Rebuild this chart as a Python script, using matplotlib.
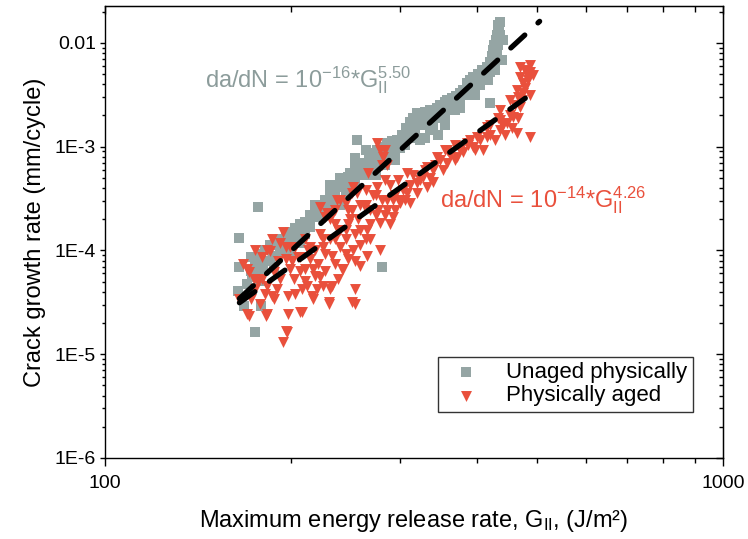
"""
Crack growth rate vs maximum energy release rate (mode II), log-log scatter
with power-law fits for unaged and physically aged specimens.
"""

import matplotlib
matplotlib.use("Agg")
import matplotlib.pyplot as plt
from matplotlib.ticker import NullFormatter
import numpy as np

plt.rcParams['font.family'] = ['Liberation Sans', 'DejaVu Sans']

# --- data ------------------------------------------------------------------
unaged_g = [164, 165, 165, 168, 175, 177, 179, 180, 170, 173, 175, 178, 181,
            183, 187, 189, 192, 196, 199, 203, 207, 207, 211, 215, 215, 219,
            221, 225, 227, 231, 234, 238, 243, 247, 249, 254, 256, 259, 262,
            267, 271, 276, 281, 281, 286, 291, 297, 302, 307, 312, 315, 320,
            323, 330, 336, 340, 345, 348, 355, 358, 364, 370, 375, 380, 385,
            390, 394, 401, 407, 415, 420, 420, 423, 424, 426, 429, 431, 432,
            432, 436, 434, 231, 245, 254, 264, 274, 284, 295, 306, 318, 330,
            348, 368, 390, 404, 336, 346, 355, 330, 439, 440, 417, 428,
            172, 172, 172, 175, 178, 178, 181.5, 185, 185, 188, 192, 196, 199,
            203, 207, 211, 215, 219, 223, 227, 231, 236, 240, 245, 249, 254,
            259, 264, 268, 274, 279, 284, 289, 295, 300, 306, 312, 318, 323,
            330, 336, 342, 348, 355, 362, 368, 375, 382, 390, 397, 404, 412,
            420, 424, 432, 436, 431,
            231, 240, 254, 264, 274, 284, 295, 323, 355, 375, 397]
unaged_rate = [4.03e-5, 6.86e-5, 1.33e-4, 2.90e-5, 1.63e-5, 2.65e-4, 2.90e-5,
               6.56e-5, 4.71e-5, 5.50e-5, 7.83e-5, 9.15e-5, 7.83e-5, 1.02e-4,
               8.75e-5, 1.14e-4, 1.28e-4, 1.33e-4, 1.52e-4, 1.66e-4, 1.19e-4,
               1.78e-4, 1.90e-4, 1.70e-4, 2.22e-4, 2.12e-4, 2.48e-4, 2.77e-4,
               3.09e-4, 3.45e-4, 3.86e-4, 4.12e-4, 4.51e-4, 5.15e-4, 5.62e-4,
               6.28e-4, 1.17e-3, 6.71e-4, 7.02e-4, 7.84e-4, 8.75e-4, 9.36e-4,
               1.00e-3, 6.86e-5, 1.09e-3, 1.14e-3, 1.17e-3, 1.30e-3, 1.52e-3,
               1.74e-3, 1.90e-3, 2.12e-3, 2.03e-3, 2.17e-3, 2.27e-3, 1.56e-3,
               2.37e-3, 2.54e-3, 2.71e-3, 2.83e-3, 2.96e-3, 3.09e-3, 3.30e-3,
               3.53e-3, 4.12e-3, 4.41e-3, 4.71e-3, 5.03e-3, 5.50e-3, 5.88e-3,
               2.65e-3, 6.57e-3, 7.50e-3, 8.57e-3, 9.57e-3, 1.07e-2, 1.19e-2,
               1.33e-2, 1.49e-2, 1.59e-2, 1.40e-2, 2.48e-4, 3.45e-4, 4.31e-4,
               5.38e-4, 6.71e-4, 7.84e-4, 8.95e-4, 1.04e-3, 1.46e-3, 1.63e-3,
               1.90e-3, 2.27e-3, 3.16e-3, 3.94e-3, 1.46e-3, 1.30e-3, 1.63e-3,
               1.20e-3, 6.87e-3, 1.07e-2, 4.41e-3, 5.50e-3,
               8.57e-5, 6.28e-5, 4.22e-5, 5.87e-5, 7.33e-5, 5.03e-5, 1.02e-4,
               7.83e-5, 1.14e-4, 6.86e-5, 9.78e-5, 1.14e-4, 9.15e-5, 1.33e-4,
               1.52e-4, 1.43e-4, 1.99e-4, 2.77e-4, 2.22e-4, 2.48e-4, 3.09e-4,
               3.45e-4, 2.77e-4, 4.31e-4, 3.86e-4, 5.04e-4, 5.38e-4, 6.71e-4,
               6.01e-4, 8.37e-4, 7.50e-4, 9.36e-4, 8.37e-4, 1.12e-3, 9.78e-4,
               1.30e-3, 1.22e-3, 1.82e-3, 1.63e-3, 1.90e-3, 1.82e-3, 2.17e-3,
               2.17e-3, 2.37e-3, 2.54e-3, 2.83e-3, 2.83e-3, 3.38e-3, 3.69e-3,
               3.94e-3, 4.60e-3, 4.92e-3, 5.26e-3, 6.14e-3, 9.57e-3, 1.19e-2,
               7.67e-3,
               4.31e-4, 5.04e-4, 7.84e-4, 9.36e-4, 5.38e-4, 6.71e-4, 7.50e-4,
               1.17e-3, 1.90e-3, 2.37e-3, 3.16e-3]

aged_g = [170, 171, 183, 196, 194, 198, 208, 230, 216, 198, 186, 171, 183,
          196, 203, 213, 225, 233, 242, 225, 208, 177, 188, 219, 211, 233,
          247, 251, 227, 236, 245, 251, 182, 197, 207, 217, 231, 230, 254,
          254, 243, 259, 265, 279, 185, 192, 199, 215, 225, 240, 252, 265,
          279, 292, 300, 312, 320, 332, 340, 170, 174, 183, 190, 202, 212,
          220, 240, 231, 223, 240, 256, 276, 286, 276, 282, 266, 252, 237,
          229, 279, 286, 284, 332, 345, 358, 375, 394, 415, 436, 447, 457,
          469, 475, 469, 482, 475, 464, 487, 464, 436, 415, 400, 385, 371,
          358, 340, 327, 320, 308, 300, 292, 286, 308, 436, 452, 466, 478,
          487, 223, 236, 245, 254, 259, 268, 274, 264, 289, 249,
          172, 175, 178, 179.5, 181.5, 188, 190.5, 192, 196, 199, 203, 205,
          207, 211, 215, 219, 221, 223, 227, 231, 236, 238, 245, 247, 251,
          257, 262, 264, 268, 271, 277, 281, 284, 167, 165,
          281, 284, 289, 295, 298, 304, 312, 315, 323, 330, 336, 342, 348,
          352, 362, 368, 380, 386, 397, 404, 409, 420, 428, 440, 444, 452,
          455, 461, 466, 473, 478, 483, 487, 469, 487, 492,
          175, 179.5, 186, 194, 201, 207, 211, 217, 227, 238, 245, 254, 259,
          268, 274, 264, 259, 247, 236, 295, 306, 355, 368, 390, 420, 432]
aged_rate = [2.43e-5, 2.32e-5, 2.43e-5, 1.66e-5, 1.30e-5, 2.43e-5, 2.54e-5,
             3.16e-5, 3.61e-5, 3.61e-5, 3.61e-5, 6.14e-5, 1.02e-4, 1.09e-4,
             1.09e-4, 1.02e-4, 1.09e-4, 8.75e-5, 6.56e-5, 4.51e-5, 4.22e-5,
             4.92e-5, 6.14e-5, 5.62e-5, 6.56e-5, 4.51e-5, 8.19e-5, 3.16e-5,
             2.12e-4, 2.48e-4, 2.89e-4, 3.61e-4, 2.32e-5, 1.63e-5, 2.54e-5,
             3.38e-5, 4.22e-5, 3.03e-5, 4.22e-5, 3.03e-5, 6.56e-5, 7.01e-5,
             8.75e-5, 1.02e-4, 9.78e-5, 1.19e-4, 1.09e-4, 1.09e-4, 1.28e-4,
             1.09e-4, 1.02e-4, 1.59e-4, 1.86e-4, 2.12e-4, 3.09e-4, 2.89e-4,
             3.61e-4, 4.12e-4, 4.61e-4, 6.56e-5, 5.26e-5, 4.51e-5, 4.22e-5,
             5.26e-5, 4.51e-5, 4.22e-5, 1.59e-4, 1.99e-4, 2.65e-4, 3.09e-4,
             3.61e-4, 4.12e-4, 3.09e-4, 1.09e-3, 8.01e-4, 5.62e-4, 4.12e-4,
             3.09e-4, 2.32e-4, 9.36e-4, 6.71e-4, 4.82e-4, 6.42e-4, 8.01e-4,
             9.36e-4, 9.36e-4, 1.00e-3, 1.25e-3, 1.46e-3, 1.70e-3, 1.94e-3,
             2.43e-3, 3.30e-3, 4.71e-3, 5.03e-3, 4.12e-3, 3.53e-3, 1.25e-3,
             1.36e-3, 1.82e-3, 1.56e-3, 1.25e-3, 1.09e-3, 8.01e-4, 7.02e-4,
             6.01e-4, 5.15e-4, 4.51e-4, 3.61e-4, 2.89e-4, 3.09e-4, 2.48e-4,
             5.62e-4, 2.27e-3, 2.83e-3, 3.02e-3, 5.50e-3, 5.26e-3, 1.43e-4,
             1.28e-4, 9.15e-5, 1.43e-4, 1.14e-4, 1.28e-4, 2.22e-4, 2.77e-4,
             1.78e-4, 1.99e-4,
             3.38e-5, 4.22e-5, 3.03e-5, 5.26e-5, 3.78e-5, 3.38e-5, 7.83e-5,
             5.26e-5, 8.19e-5, 6.56e-5, 3.78e-5, 8.57e-5, 6.28e-5, 1.28e-4,
             8.19e-5, 1.02e-4, 7.33e-5, 5.50e-5, 9.15e-5, 1.28e-4, 7.33e-5,
             1.59e-4, 1.28e-4, 1.78e-4, 2.48e-4, 1.99e-4, 2.77e-4, 1.28e-4,
             1.78e-4, 3.45e-4, 2.48e-4, 3.09e-4, 2.22e-4, 7.33e-5, 3.38e-5,
             6.71e-4, 9.36e-4, 4.31e-4, 3.45e-4, 4.82e-4, 3.86e-4, 4.31e-4,
             5.38e-4, 4.82e-4, 6.01e-4, 5.04e-4, 6.71e-4, 7.50e-4, 6.01e-4,
             8.37e-4, 7.50e-4, 8.95e-4, 1.04e-3, 9.36e-4, 1.17e-3, 9.36e-4,
             1.30e-3, 1.17e-3, 1.63e-3, 1.30e-3, 2.03e-3, 1.52e-3, 2.54e-3,
             1.90e-3, 2.83e-3, 3.69e-3, 4.41e-3, 3.16e-3, 5.88e-3, 6.14e-3,
             4.92e-3,
             1.02e-4, 8.57e-5, 1.28e-4, 1.52e-4, 7.83e-5, 8.57e-5, 5.03e-5,
             6.56e-5, 6.28e-5, 5.26e-5, 1.59e-4, 7.83e-5, 1.59e-4, 2.48e-4,
             3.45e-4, 3.86e-4, 2.77e-4, 2.48e-4, 1.78e-4, 2.48e-4, 3.09e-4,
             9.36e-4, 1.04e-3, 1.17e-3, 1.63e-3, 1.90e-3]

# power-law fits  da/dN = C * G^m  (as drawn on the chart)
fit_g_range = [165, 505]
unaged_fit = (10 ** -16.66, 5.50)
aged_fit = (10 ** -13.95, 4.26)

x_ticks = [100, 1000]
x_tick_labels = ['100', '1000']
y_ticks = [1e-6, 1e-5, 1e-4, 1e-3, 1e-2]
y_tick_labels = ['1E-6', '1E-5', '1E-4', '1E-3', '0.01']

GREY = '#95a5a4'
RED = '#e9503c'


def power_law(g, coef, exp):
    return coef * np.asarray(g, dtype=float) ** exp


fig = plt.figure(figsize=(7.48, 5.39), dpi=100)
ax = fig.add_axes([105 / 748, 1 - 458 / 539, 618 / 748, 452 / 539])

ax.scatter(unaged_g, unaged_rate, marker='s', s=46, color=GREY,
           linewidths=0, zorder=2, label='Unaged physically')
ax.scatter(aged_g, aged_rate, marker='v', s=62, color=RED,
           linewidths=0, zorder=3, label='Physically aged')

g_line = np.geomspace(fit_g_range[0], fit_g_range[1], 50)
for coef, exp in (unaged_fit, aged_fit):
    ax.plot(g_line, power_law(g_line, coef, exp), color='black', lw=3.8,
            linestyle=(0, (3.6, 3.4)), dash_capstyle='round', zorder=4)

ax.set_xscale('log')
ax.set_yscale('log')
ax.set_xlim(100, 1000)
ax.set_ylim(1e-6, 0.0227)
ax.set_xticks(x_ticks, x_tick_labels)
ax.set_yticks(y_ticks, y_tick_labels)
ax.xaxis.set_minor_formatter(NullFormatter())
ax.yaxis.set_minor_formatter(NullFormatter())

ax.tick_params(axis='both', which='both', direction='out', labelsize=14,
               width=1)
ax.tick_params(axis='x', which='major', length=6, pad=6)
ax.tick_params(axis='x', which='minor', length=3.5)
ax.tick_params(axis='y', which='major', length=3.5, pad=3)
ax.tick_params(axis='y', which='minor', length=2)
for spine in ax.spines.values():
    spine.set_linewidth(1)

# mirrored inward ticks on top and right
top = ax.secondary_xaxis('top')
top.set_xticks(x_ticks)
top.tick_params(which='both', direction='in', labeltop=False, width=1)
top.tick_params(which='major', length=6)
top.tick_params(which='minor', length=4)
top.xaxis.set_minor_formatter(NullFormatter())
right = ax.secondary_yaxis('right')
right.set_yticks(y_ticks)
right.tick_params(which='both', direction='in', labelright=False, width=1)
right.tick_params(which='major', length=5)
right.tick_params(which='minor', length=3)
right.yaxis.set_minor_formatter(NullFormatter())

ax.set_xlabel(r'Maximum energy release rate, G$\mathregular{_{II}}$, (J/m²)',
              fontsize=17, labelpad=12)
ax.set_ylabel('Crack growth rate (mm/cycle)', fontsize=17, labelpad=6)

ax.text(0.162, 0.821, r'da/dN = 10$\mathregular{^{-16}}$*G$\mathregular{_{II}^{5.50}}$',
        transform=ax.transAxes, fontsize=17, color='#8c9c9b', va='baseline')
ax.text(0.542, 0.555, r'da/dN = 10$\mathregular{^{-14}}$*G$\mathregular{_{II}^{4.26}}$',
        transform=ax.transAxes, fontsize=17, color=RED, va='baseline')

leg = ax.legend(loc='lower right', bbox_to_anchor=(0.951, 0.102),
                fontsize=16, frameon=True, fancybox=False, edgecolor='black',
                borderpad=0.25, labelspacing=0.1, handlelength=2.0,
                handletextpad=0.8, borderaxespad=0)
leg.get_frame().set_linewidth(1)

fig.savefig('out.png', dpi=100)
